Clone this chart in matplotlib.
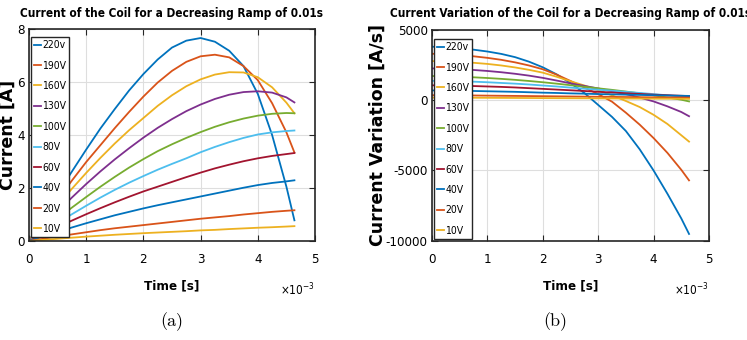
"""Coil current and current variation for a decreasing 0.01 s voltage ramp."""
import matplotlib
matplotlib.use("Agg")
import matplotlib.pyplot as plt
from matplotlib.ticker import FuncFormatter
import numpy as np

plt.rcParams["font.family"] = ["DejaVu Sans"]
plt.rcParams["font.stretch"] = "condensed"
plt.rcParams["axes.unicode_minus"] = False

# time samples [ms]
time_ms = [0, 0.25, 0.5, 0.75, 1.0, 1.25, 1.5, 1.75, 2.0, 2.25, 2.5,
           2.75, 3.0, 3.25, 3.5, 3.75, 4.0, 4.25, 4.5, 4.64]

labels = ["220v", "190V", "160V", "130V", "100V", "80V", "60V", "40V", "20V", "10V"]

# current [A]
i_220 = [0, 0.9, 1.78, 2.62, 3.45, 4.25, 4.98, 5.68, 6.3, 6.85, 7.3, 7.56, 7.66, 7.52, 7.18, 6.6, 5.55, 4.0, 2.05, 0.78]
i_190 = [0, 0.8, 1.55, 2.28, 2.98, 3.62, 4.26, 4.87, 5.45, 5.98, 6.42, 6.76, 6.97, 7.03, 6.93, 6.6, 6.07, 5.2, 4.1, 3.34]
i_160 = [0, 0.68, 1.34, 1.97, 2.57, 3.14, 3.68, 4.18, 4.64, 5.1, 5.5, 5.84, 6.1, 6.28, 6.37, 6.36, 6.18, 5.8, 5.22, 4.82]
i_130 = [0, 0.56, 1.11, 1.64, 2.15, 2.63, 3.08, 3.5, 3.9, 4.27, 4.6, 4.9, 5.15, 5.36, 5.52, 5.62, 5.65, 5.6, 5.42, 5.23]
i_100 = [0, 0.43, 0.85, 1.26, 1.66, 2.05, 2.42, 2.77, 3.09, 3.39, 3.65, 3.89, 4.11, 4.31, 4.48, 4.62, 4.73, 4.8, 4.83, 4.82]
i_80 = [0, 0.34, 0.68, 1.01, 1.33, 1.64, 1.93, 2.2, 2.45, 2.69, 2.91, 3.12, 3.35, 3.55, 3.73, 3.89, 4.02, 4.1, 4.15, 4.17]
i_60 = [0, 0.26, 0.52, 0.77, 1.01, 1.24, 1.46, 1.67, 1.87, 2.05, 2.23, 2.41, 2.58, 2.74, 2.88, 3.01, 3.12, 3.21, 3.28, 3.32]
i_40 = [0, 0.17, 0.34, 0.51, 0.67, 0.82, 0.97, 1.1, 1.23, 1.35, 1.46, 1.57, 1.68, 1.79, 1.9, 2.01, 2.11, 2.19, 2.25, 2.29]
i_20 = [0, 0.085, 0.17, 0.25, 0.33, 0.41, 0.48, 0.54, 0.6, 0.66, 0.72, 0.78, 0.84, 0.89, 0.94, 1.0, 1.05, 1.1, 1.14, 1.16]
i_10 = [0, 0.042, 0.084, 0.125, 0.165, 0.2, 0.235, 0.265, 0.295, 0.32, 0.345, 0.37, 0.4, 0.42, 0.45, 0.475, 0.5, 0.52, 0.545, 0.56]

# current variation [kA/s]
d_220 = [3.78, 3.75, 3.68, 3.57, 3.44, 3.27, 3.04, 2.72, 2.32, 1.82, 1.2, 0.5, -0.35, -1.2, -2.2, -3.5, -5.0, -6.65, -8.4, -9.5]
d_190 = [3.28, 3.25, 3.19, 3.1, 2.99, 2.85, 2.67, 2.45, 2.18, 1.8, 1.35, 0.88, 0.42, -0.12, -0.9, -1.75, -2.7, -3.75, -4.95, -5.7]
d_160 = [2.76, 2.74, 2.7, 2.64, 2.56, 2.45, 2.31, 2.14, 1.94, 1.65, 1.33, 1.03, 0.7, 0.33, -0.07, -0.5, -1.05, -1.7, -2.5, -2.95]
d_130 = [2.24, 2.23, 2.19, 2.13, 2.06, 1.97, 1.86, 1.73, 1.57, 1.38, 1.18, 1.0, 0.82, 0.62, 0.42, 0.17, -0.1, -0.45, -0.85, -1.15]
d_100 = [1.7, 1.69, 1.66, 1.61, 1.56, 1.5, 1.43, 1.35, 1.26, 1.16, 1.05, 0.94, 0.83, 0.72, 0.6, 0.47, 0.33, 0.18, 0.02, -0.1]
d_80 = [1.36, 1.35, 1.33, 1.3, 1.26, 1.21, 1.16, 1.1, 1.03, 0.96, 0.88, 0.8, 0.73, 0.66, 0.58, 0.5, 0.42, 0.33, 0.24, 0.2]
d_60 = [1.04, 1.03, 1.01, 0.99, 0.96, 0.93, 0.89, 0.84, 0.79, 0.74, 0.69, 0.64, 0.58, 0.53, 0.48, 0.43, 0.38, 0.34, 0.3, 0.28]
d_40 = [0.68, 0.67, 0.66, 0.64, 0.62, 0.6, 0.58, 0.55, 0.52, 0.5, 0.47, 0.45, 0.42, 0.4, 0.38, 0.36, 0.34, 0.32, 0.3, 0.29]
d_20 = [0.34, 0.335, 0.33, 0.32, 0.31, 0.3, 0.29, 0.28, 0.27, 0.26, 0.25, 0.24, 0.23, 0.22, 0.21, 0.2, 0.19, 0.18, 0.17, 0.16]
d_10 = [0.17, 0.168, 0.165, 0.16, 0.155, 0.15, 0.145, 0.14, 0.135, 0.13, 0.125, 0.12, 0.115, 0.11, 0.105, 0.1, 0.095, 0.09, 0.085, 0.08]

currents = [i_220, i_190, i_160, i_130, i_100, i_80, i_60, i_40, i_20, i_10]
variations = [d_220, d_190, d_160, d_130, d_100, d_80, d_60, d_40, d_20, d_10]

# MATLAB default line colour order
matlab = ["#0072BD", "#D95319", "#EDB120", "#7E2F8E", "#77AC30", "#4DBEEE", "#A2142F"]
colours = [matlab[k % len(matlab)] for k in range(len(labels))]

t = np.array(time_ms) * 1e-3

fig = plt.figure(figsize=(7.47, 3.40), dpi=100)
ax1 = fig.add_axes([0.0388, 0.2912, 0.3829, 0.6235])
ax2 = fig.add_axes([0.5783, 0.2912, 0.3708, 0.6220])


def style(ax, title, ylabel, ylab_x, leg_top):
    ax.set_xlim(0, 5e-3)
    ax.set_xticks(np.arange(6) * 1e-3)
    ax.xaxis.set_major_formatter(FuncFormatter(lambda x, pos: "%g" % round(x * 1e3, 6)))
    ax.grid(True, color="0.87", lw=0.8)
    ax.set_axisbelow(True)
    for s in ax.spines.values():
        s.set_color("0.15")
        s.set_linewidth(1.2)
    ax.tick_params(direction="in", top=True, right=True, length=4, width=0.8,
                   labelsize=9.5, colors="0.15", labelcolor="black")
    ax.tick_params(axis="x", pad=9)
    ax.tick_params(axis="y", pad=3)
    # scale factor of the time axis, as MATLAB prints it
    ax.text(1.0, -0.255, r"$\times$10$^{-3}$", transform=ax.transAxes, ha="right",
            va="baseline", fontsize=8.5)
    ax.set_xlabel("Time [s]", fontsize=9.5, fontweight="bold", labelpad=9)
    ax.set_ylabel(ylabel, fontsize=12.5, fontweight="bold", fontstretch="normal")
    ax.yaxis.set_label_coords(ylab_x, 0.5)
    ax.set_title(title, fontsize=8.5, fontweight="bold", pad=9)
    leg = ax.legend(loc="upper left", bbox_to_anchor=(0.008, leg_top), borderaxespad=0,
                    fontsize=7.5, labelspacing=1.0, borderpad=0.3, handlelength=0.6,
                    handletextpad=0.15, fancybox=False, framealpha=1, edgecolor="0.15")
    leg.get_frame().set_linewidth(1.0)


for ys, c, lab in zip(currents, colours, labels):
    ax1.plot(t, ys, color=c, lw=1.3, label=lab)
ax1.set_ylim(0, 8)
ax1.set_yticks([0, 2, 4, 6, 8])
style(ax1, "Current of the Coil for a Decreasing Ramp of 0.01s", "Current [A]", -0.042, 0.962)

for ys, c, lab in zip(variations, colours, labels):
    ax2.plot(t, np.array(ys) * 1e3, color=c, lw=1.3, label=lab)
ax2.set_ylim(-10000, 5000)
ax2.set_yticks([-10000, -5000, 0, 5000])
style(ax2, "Current Variation of the Coil for a Decreasing Ramp of 0.01s",
      "Current Variation [A/s]", -0.162, 0.955)

fig.text(172 / 747, 1 - 322 / 340, "(a)", family="cmr10", fontsize=13, ha="center", va="center")
fig.text(555 / 747, 1 - 322 / 340, "(b)", family="cmr10", fontsize=13, ha="center", va="center")

fig.savefig("out.png", dpi=100)
